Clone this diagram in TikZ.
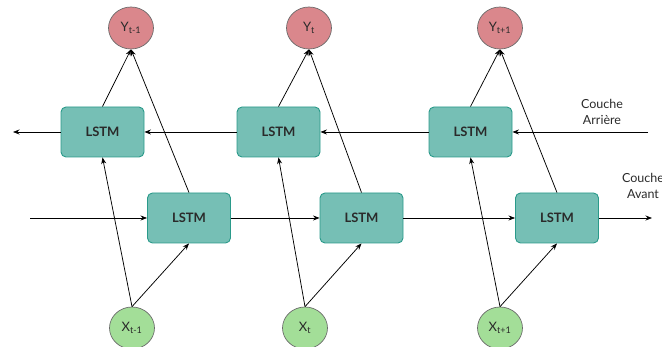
\documentclass[tikz,border=0pt]{standalone}
\usepackage{fontspec}
\setmainfont{Lato}
\usetikzlibrary{shapes.geometric,arrows.meta}
\definecolor{boxfill}{HTML}{76BFB5}
\definecolor{boxdraw}{HTML}{2A9A8A}
\definecolor{yfill}{HTML}{DA878C}
\definecolor{xfill}{HTML}{A3DE98}
\definecolor{cborder}{HTML}{6A6A6A}
\definecolor{txt}{HTML}{2A2A2A}
\begin{document}
\begin{tikzpicture}[x=1pt,y=-1pt,
  lstmbox/.style={rectangle,rounded corners=5pt,fill=boxfill,draw=boxdraw,line width=0.9pt,
    minimum width=83pt,minimum height=50pt,font=\fontsize{13}{15}\selectfont\bfseries,text=txt,inner sep=0pt},
  ynode/.style={ellipse,fill=yfill,draw=cborder,line width=0.7pt,minimum width=45pt,minimum height=42pt,inner sep=0pt,font=\fontsize{13}{15}\selectfont,text=txt},
  xnode/.style={ellipse,fill=xfill,draw=cborder,line width=0.7pt,minimum width=45pt,minimum height=42pt,inner sep=0pt,font=\fontsize{13}{15}\selectfont,text=txt},
  conn/.style={-{Stealth[length=6.5pt,width=5pt]},line width=0.75pt},
  lbl/.style={align=center,font=\fontsize{12.5}{15.5}\selectfont,text=txt,inner sep=0pt}]
\useasboundingbox (0,0) rectangle (662,347);
% outputs
\node[ynode] (y1) at (131,28) {Y\textsubscript{t-1}};
\node[ynode] (y2) at (309,28) {Y\textsubscript{t}};
\node[ynode] (y3) at (500,28) {Y\textsubscript{t+1}};
% inputs
\node[xnode] (x1) at (132,328) {X\textsubscript{t-1}};
\node[xnode] (x2) at (305,328) {X\textsubscript{t}};
\node[xnode] (x3) at (500,328) {X\textsubscript{t+1}};
% backward layer
\node[lstmbox] (b1) at (102.5,132) {LSTM};
\node[lstmbox] (b2) at (278.5,132) {LSTM};
\node[lstmbox] (b3) at (470.5,132) {LSTM};
% forward layer
\node[lstmbox] (f1) at (189,218) {LSTM};
\node[lstmbox] (f2) at (361.5,218) {LSTM};
\node[lstmbox] (f3) at (557,218) {LSTM};
% free ends
\coordinate (bin) at (648,132);
\coordinate (bout) at (13,132);
\coordinate (fin) at (30,218);
\coordinate (fout) at (652,218);
% labels
\node[lbl] (lb) at (602,112) {Couche\\Arrière};
\node[lbl] (lf) at (643,186) {Couche\\Avant};
% backward connections
\draw[conn] (bin) -- (b3.east);
\draw[conn] (b3.west) -- (b2.east);
\draw[conn] (b2.west) -- (b1.east);
\draw[conn] (b1.west) -- (bout);
% forward connections
\draw[conn] (fin) -- (f1.west);
\draw[conn] (f1.east) -- (f2.west);
\draw[conn] (f2.east) -- (f3.west);
\draw[conn] (f3.east) -- (fout);
% inputs to cells
\draw[conn] (x1.north) -- (b1.south);
\draw[conn] (x1.north) -- (f1.south);
\draw[conn] (x2.north) -- (b2.south);
\draw[conn] (x2.north) -- (f2.south);
\draw[conn] (x3.north) -- (b3.south);
\draw[conn] (x3.north) -- (f3.south);
% cells to outputs
\draw[conn] (b1.north) -- (y1.south);
\draw[conn] (f1.north) -- (y1.south);
\draw[conn] (b2.north) -- (y2.south);
\draw[conn] (f2.north) -- (y2.south);
\draw[conn] (b3.north) -- (y3.south);
\draw[conn] (f3.north) -- (y3.south);
\end{tikzpicture}
\end{document}
